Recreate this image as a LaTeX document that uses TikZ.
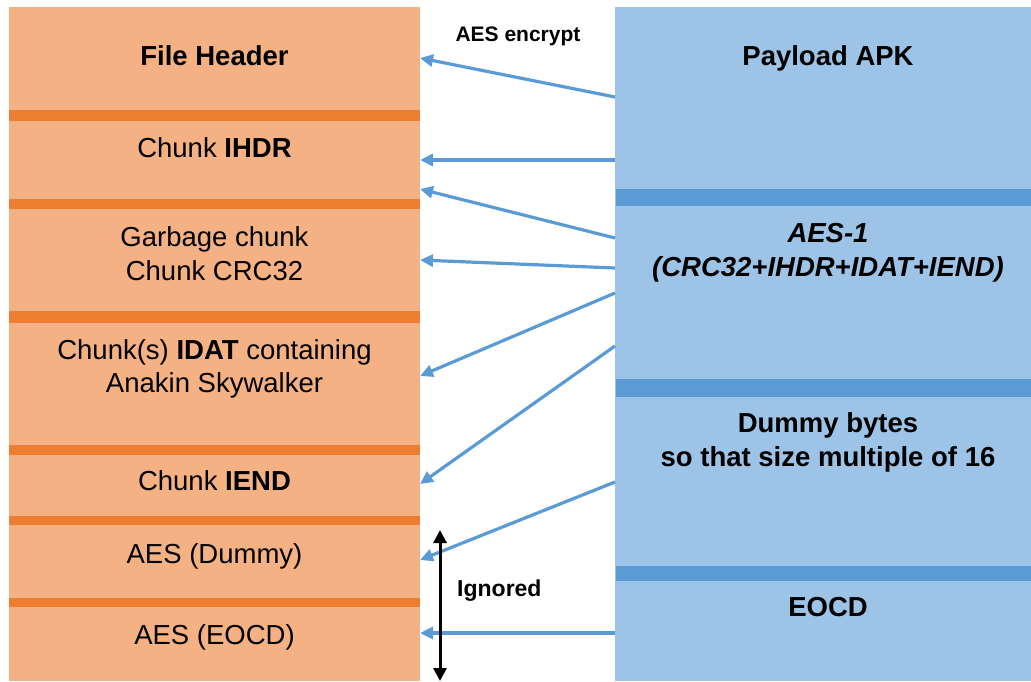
\documentclass[tikz,border=0pt]{standalone}
\usepackage{fontspec}
\setmainfont{Liberation Sans}
\usetikzlibrary{arrows.meta}
\definecolor{pngfill}{HTML}{F4B183}
\definecolor{pngsep}{HTML}{ED7D31}
\definecolor{apkfill}{HTML}{9DC3E6}
\definecolor{apksep}{HTML}{5B9BD5}
\definecolor{encblue}{HTML}{5B9BD5}
\begin{document}
\begin{tikzpicture}[x=1pt,y=-1pt,
  lbl/.style={font=\fontsize{27.5}{33.5}\selectfont, align=center, anchor=base, inner sep=0pt},
  blbl/.style={lbl, font=\fontsize{27.5}{33.5}\selectfont\bfseries},
  note/.style={inner sep=0pt, font=\fontsize{21}{25}\selectfont\bfseries},
  enc/.style={draw=encblue, line width=3.2pt, -{Triangle[length=13pt,width=12pt]}},
  span/.style={draw=black, line width=3pt, {Triangle[length=13pt,width=13pt]}-{Triangle[length=13pt,width=13pt]}}]
\useasboundingbox (0,0) rectangle (1031,681);

% PNG container (left column)
\fill[pngfill] (9,7) rectangle (420,681);
\foreach \a/\b in {110/121, 199/209, 311/323, 445/455, 516/525, 598/607}
  \fill[pngsep] (9,\a) rectangle (420,\b);

% Payload APK (right column)
\fill[apkfill] (615,7) rectangle (1031,681);
\foreach \a/\b in {189/206, 379/397, 566/581}
  \fill[apksep] (616,\a) rectangle (1031,\b);

% Left labels (multi-line labels sit on the baseline of their last line)
\node[blbl] (fh) at (214.5,65.5) {File Header};
\node[lbl] (ihdr) at (214.5,157.5) {Chunk \textbf{IHDR}};
\node[lbl] (garb) at (214.5,280) {Garbage chunk\\Chunk CRC32};
\node[lbl] (idat) at (214.5,392.7) {Chunk(s) \textbf{IDAT} containing\\Anakin Skywalker};
\node[lbl] (iend) at (214.5,490.7) {Chunk \textbf{IEND}};
\node[lbl] (aesd) at (214.5,563.3) {AES (Dummy)};
\node[lbl] (aese) at (214.5,644.3) {AES (EOCD)};

% Right labels
\node[blbl] (apk) at (828,65.7) {Payload APK};
\node[lbl, font=\fontsize{27.5}{34}\selectfont\bfseries\itshape] (aes1) at (828,276.7) {AES-1\\(CRC32+IHDR+IDAT+IEND)};
\node[blbl, font=\fontsize{27.5}{34}\selectfont\bfseries] (dummy) at (828,466) {Dummy bytes\\so that size multiple of 16};
\node[blbl] (eocd) at (828,616.7) {EOCD};

% Captions
\node[note, anchor=base] (encl) at (518,41.7) {AES encrypt};
\node[note, anchor=base west, font=\fontsize{23}{27}\selectfont\bfseries] (ign) at (457,596.7) {Ignored};

% Arrow end points on the column edges
\coordinate (s1) at (615,97);  \coordinate (t1) at (420,58);
\coordinate (s2) at (615,160); \coordinate (t2) at (420,160);
\coordinate (s3) at (615,238); \coordinate (t3) at (420,189);
\coordinate (s4) at (615,268); \coordinate (t4) at (420,260);
\coordinate (s5) at (615,293); \coordinate (t5) at (420,376);
\coordinate (s6) at (615,346); \coordinate (t6) at (420,484);
\coordinate (s7) at (615,482); \coordinate (t7) at (420,560);
\coordinate (s8) at (615,633); \coordinate (t8) at (420,633);
\coordinate (ig1) at (440,530); \coordinate (ig2) at (440,681);

\foreach \i in {1,...,8}
  \draw[enc] (s\i) -- (t\i);
\draw[span] (ig1) -- (ig2);
\end{tikzpicture}
\end{document}
